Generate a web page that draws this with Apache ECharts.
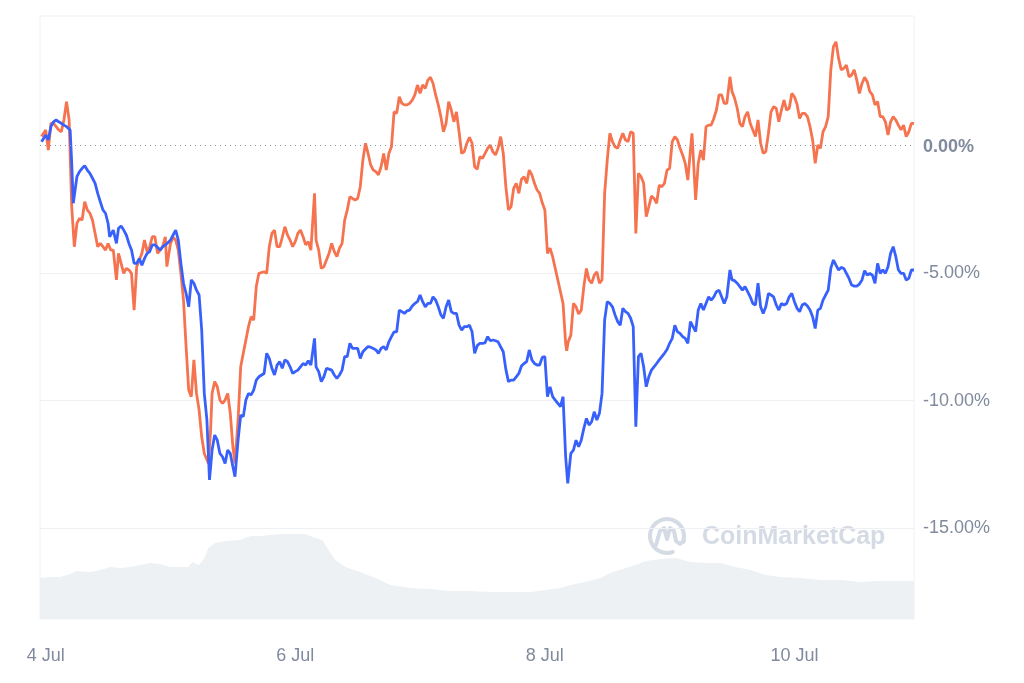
<!DOCTYPE html>
<html>
<head>
<meta charset="utf-8">
<script src="https://cdn.jsdelivr.net/npm/echarts@6/dist/echarts.min.js"></script>
<style>
html,body{margin:0;padding:0;background:#fff;}
#chart{width:1024px;height:683px;}
</style>
</head>
<body>
<div id="chart"></div>
<script>
// hours since 4 Jul 00:00, % change
var coinA = [[-0.8,0.33],[0,0.59],[0.5,-0.2],[1,0.85],[1.5,0.85],[2,0.72],[2.5,0.59],[3,0.52],[3.5,0.98],[4,1.70],[4.5,0.98],[5,-2.41],[5.5,-3.98],[6,-3.07],[6.5,-2.87],[7,-2.94],[7.5,-2.22],[8,-2.54],[8.5,-2.67],[9,-2.94],[9.5,-3.46],[10,-3.98],[10.5,-3.85],[11,-3.98],[11.5,-4.11],[12,-3.85],[12.5,-4.11],[13,-4.11],[13.6,-5.28],[14,-4.24],[14.5,-4.63],[15,-5.02],[15.5,-4.83],[16,-4.89],[16.5,-5.02],[17,-6.46],[17.5,-4.76],[18,-4.50],[18.5,-4.24],[19,-3.72],[19.5,-4.17],[20,-3.98],[20.5,-3.59],[21,-3.59],[21.5,-4.24],[22,-4.11],[22.5,-3.98],[23,-3.59],[23.3,-4.76],[24,-3.85],[24.5,-3.61],[25,-3.72],[25.5,-4.11],[26,-5.02],[26.5,-6.07],[27,-7.89],[27.5,-9.59],[28,-9.85],[28.5,-8.41],[29,-9.72],[29.5,-10.37],[30,-11.42],[30.5,-12.07],[31.3,-12.46],[31.7,-11.2],[32,-9.72],[32.5,-9.26],[33,-9.46],[33.5,-9.98],[34,-10.11],[34.5,-9.98],[35,-9.72],[35.5,-10.5],[36,-11.81],[36.4,-12.46],[37,-10.76],[37.5,-8.68],[38,-8.15],[38.5,-7.63],[39,-7.11],[39.5,-6.72],[40,-6.85],[40.5,-5.54],[41,-5.02],[42,-4.96],[42.5,-5.02],[43,-3.98],[43.5,-3.46],[44,-3.33],[44.5,-3.98],[45,-3.98],[45.5,-3.61],[46,-3.20],[46.5,-3.52],[47,-3.72],[47.5,-3.98],[48,-3.78],[48.5,-3.46],[49,-3.33],[49.5,-3.59],[50,-3.91],[50.5,-3.78],[51,-4.11],[51.7,-1.89],[52,-3.72],[52.5,-4.11],[53,-4.83],[53.5,-4.76],[54,-4.50],[54.5,-4.24],[55,-3.85],[55.5,-4.17],[56,-4.37],[56.5,-4.04],[57,-3.85],[57.5,-2.94],[58,-2.54],[58.5,-2.02],[59,-2.09],[59.5,-2.15],[60,-2.09],[60.5,-1.63],[61,-0.59],[61.5,0.07],[62,-0.33],[62.5,-0.78],[63,-0.98],[63.5,-1.04],[64,-1.17],[64.5,-0.85],[65,-0.33],[65.5,-0.98],[66,-0.33],[66.5,-0.07],[67,1.30],[67.5,1.24],[68,1.89],[68.5,1.63],[69,1.57],[69.5,1.57],[70,1.63],[70.5,1.76],[71,1.96],[71.5,2.35],[72,2.02],[72.5,2.35],[73,2.22],[73.5,2.54],[74,2.65],[74.5,2.41],[75,1.96],[75.5,1.57],[76,1.11],[76.5,0.52],[77,0.85],[77.5,1.70],[78,1.37],[78.5,0.91],[79,1.30],[79.5,0.52],[80,-0.33],[80.5,-0.26],[81,0.07],[81.5,0.30],[82,0.07],[82.5,-0.85],[83,-0.95],[83.5,-0.46],[84,-0.52],[84.5,-0.33],[85,-0.13],[85.5,0],[86,-0.26],[86.5,-0.39],[87,-0.13],[87.5,0.33],[88,-0.33],[88.5,-1.63],[89,-2.54],[89.5,-2.41],[90,-1.70],[90.5,-1.50],[91,-1.89],[91.5,-1.34],[92,-1.24],[92.5,-1.50],[93,-0.98],[93.5,-1.17],[94,-1.50],[94.5,-1.76],[95,-1.89],[95.5,-2.26],[96,-2.54],[96.5,-4.24],[97,-4.04],[97.5,-4.37],[98,-4.83],[98.5,-5.28],[99,-5.74],[99.5,-6.2],[100,-7.76],[100.2,-8.05],[100.5,-7.7],[101,-7.44],[101.5,-6.2],[102,-6.33],[102.5,-6.61],[103,-6.46],[103.5,-5.54],[104,-4.83],[104.5,-5.28],[105,-5.41],[105.5,-5.09],[106,-4.96],[106.5,-5.41],[107,-5.28],[107.5,-1.89],[108,-0.59],[108.5,0.46],[109,0.13],[109.5,-0.07],[110,-0.13],[110.5,0.20],[111,0.46],[111.5,0.20],[112,0.13],[112.5,0.52],[113,0.46],[113.5,-3.46],[114,-1.11],[114.5,-1.24],[115,-1.50],[115.5,-2.80],[116,-2.41],[116.5,-2.0],[117,-2.09],[117.5,-2.28],[118,-1.57],[118.5,-1.63],[119,-1.50],[119.5,-0.98],[120,-0.91],[120.5,0.13],[121,0.33],[121.5,0.2],[122,-0.13],[122.5,-0.39],[123,-0.72],[123.5,-1.37],[124,-0.20],[124.3,0.46],[125,-2.15],[125.5,-0.72],[126,-0.20],[126.5,-0.59],[127,0.72],[127.5,0.78],[128,0.78],[128.5,1.04],[129,1.37],[129.5,1.96],[130,1.96],[130.5,1.63],[131,1.63],[131.6,2.67],[132,2.09],[132.5,1.83],[133,1.44],[133.5,0.85],[134,0.72],[134.5,1.11],[135,1.30],[135.5,0.85],[136,0.59],[136.5,0.33],[137,0.98],[137.5,0.07],[138,-0.33],[138.5,-0.26],[139,0.46],[139.5,1.30],[140,1.50],[140.5,1.44],[141,0.91],[141.5,1.37],[142,1.76],[142.5,1.37],[143,1.44],[143.5,2.02],[144,1.89],[144.5,1.60],[145,1.04],[145.5,1.24],[146,1.24],[146.5,1.11],[147,0.72],[147.5,0.2],[148,-0.72],[148.5,0],[149,-0.13],[149.5,0.52],[150,0.72],[150.5,1.11],[151,2.94],[151.5,3.85],[152,4.04],[152.5,3.39],[153,2.94],[153.5,3.0],[154,3.13],[154.5,2.67],[155,2.74],[155.5,2.94],[156,2.54],[156.5,2.02],[157,2.41],[157.5,2.65],[158,2.48],[158.5,2.09],[159,1.96],[159.5,1.57],[160,1.70],[160.5,1.11],[161,1.11],[161.5,0.91],[162,0.39],[162.5,0.91],[163,1.11],[163.5,0.98],[164,0.78],[164.5,0.59],[165,0.78],[165.5,0.33],[166,0.52],[166.5,0.85],[167,0.85]];

var coinB = [[-0.8,0.13],[0,0.39],[0.5,0.2],[1,0.72],[1.5,0.91],[2,0.98],[2.5,0.91],[3,0.85],[3.5,0.78],[4,0.72],[4.7,0.59],[5,-0.72],[5.3,-2.28],[6,-1.24],[6.5,-1.04],[7,-0.91],[7.5,-0.81],[8,-0.98],[8.5,-1.11],[9,-1.30],[9.5,-1.50],[10,-1.89],[10.5,-2.22],[11,-2.54],[11.5,-2.67],[12,-3.07],[12.3,-3.59],[13,-3.33],[13.6,-3.85],[14,-3.26],[14.5,-3.17],[15,-3.33],[15.5,-3.52],[16,-3.85],[16.5,-4.11],[17,-4.63],[17.5,-4.63],[18,-4.44],[18.5,-4.70],[19,-4.44],[19.5,-4.24],[20,-4.17],[20.5,-3.91],[21,-3.91],[21.5,-4.0],[22,-4.11],[22.5,-3.98],[23,-3.91],[23.5,-3.82],[24,-3.72],[24.5,-3.52],[25,-3.33],[25.5,-3.72],[26,-4.63],[26.5,-5.41],[27,-5.81],[27.5,-6.33],[28,-5.28],[28.5,-5.41],[29,-5.68],[29.5,-5.87],[30,-7.24],[30.5,-9.72],[31,-10.76],[31.5,-13.11],[32,-11.94],[32.5,-11.35],[33,-11.55],[33.5,-12.07],[34,-12.2],[34.5,-12.46],[35,-11.94],[35.5,-12.07],[36,-12.59],[36.4,-12.98],[37,-11.55],[37.5,-10.57],[38,-10.63],[38.5,-9.98],[39,-9.72],[39.5,-9.78],[40,-9.59],[40.5,-9.2],[41,-9.07],[42,-8.94],[42.5,-8.15],[43,-8.35],[43.5,-8.74],[44,-9.0],[44.5,-8.61],[45,-8.48],[45.5,-8.74],[46,-8.41],[46.5,-8.48],[47,-8.68],[47.5,-8.94],[48,-8.87],[48.5,-8.81],[49,-8.68],[49.5,-8.55],[50,-8.61],[50.5,-8.44],[51,-8.61],[51.7,-7.57],[52,-8.68],[52.5,-8.87],[53,-9.26],[53.5,-9.07],[54,-8.74],[54.5,-8.77],[55,-8.81],[55.5,-9.0],[56,-9.13],[56.5,-9.0],[57,-8.81],[57.5,-8.28],[58,-8.28],[58.5,-7.76],[59,-7.96],[59.5,-7.96],[60,-7.96],[60.5,-8.35],[61,-8.09],[61.5,-7.98],[62,-7.89],[62.5,-7.91],[63,-7.96],[63.5,-8.02],[64,-8.15],[64.5,-7.96],[65,-7.89],[65.5,-8.02],[66,-7.70],[66.5,-7.5],[67,-7.31],[67.5,-7.31],[68,-6.46],[68.5,-6.52],[69,-6.59],[69.5,-6.49],[70,-6.46],[70.5,-6.3],[71,-6.20],[71.5,-6.13],[72,-5.87],[72.5,-6.13],[73,-6.33],[73.5,-6.2],[74,-6.20],[74.5,-5.94],[75,-6.07],[75.5,-6.33],[76,-6.65],[76.5,-6.78],[77,-6.33],[77.5,-6.07],[78,-6.52],[78.5,-6.59],[79,-6.59],[79.5,-7.05],[80,-7.24],[80.5,-7.11],[81,-7.11],[81.5,-7.05],[82,-7.31],[82.5,-8.15],[83,-7.85],[83.5,-7.76],[84,-7.76],[84.5,-7.74],[85,-7.50],[85.5,-7.66],[86,-7.63],[86.5,-7.66],[87,-7.70],[88,-8.09],[88.5,-8.78],[89,-9.26],[89.5,-9.2],[90,-9.20],[90.5,-9.07],[91,-8.94],[91.5,-8.65],[92,-8.55],[92.5,-8.48],[93,-8.02],[93.5,-8.41],[94,-8.55],[94.5,-8.61],[95,-8.61],[95.5,-8.31],[96,-8.28],[96.5,-9.85],[97,-9.46],[97.5,-9.85],[98,-9.98],[98.5,-10.11],[99,-10.24],[99.5,-9.85],[100,-12.2],[100.4,-13.24],[101,-12.07],[101.5,-11.94],[102,-11.55],[102.5,-11.81],[103,-11.55],[103.5,-11.09],[104,-10.7],[104.5,-10.96],[105,-10.83],[105.5,-10.44],[106,-10.76],[106.5,-10.5],[107,-9.72],[107.5,-6.85],[108,-6.13],[108.5,-6.2],[109,-6.33],[109.5,-6.65],[110,-6.91],[110.5,-7.05],[111,-6.39],[111.5,-6.52],[112,-6.59],[112.5,-6.78],[113,-7.11],[113.5,-11.02],[114,-8.28],[114.5,-8.15],[115,-8.68],[115.5,-9.46],[116,-9.07],[116.5,-8.81],[117,-8.68],[117.5,-8.55],[118,-8.41],[118.5,-8.28],[119,-8.15],[119.5,-8.0],[120,-7.76],[120.5,-7.57],[121,-7.05],[121.5,-7.31],[122,-7.37],[122.5,-7.5],[123,-7.57],[123.5,-7.76],[124,-6.91],[124.5,-7.11],[125,-7.3],[125.5,-6.46],[126,-6.2],[126.5,-6.46],[127,-6.2],[127.5,-5.94],[128,-6.07],[128.5,-5.94],[129,-5.74],[129.5,-5.68],[130,-5.94],[130.5,-6.2],[131,-5.94],[131.6,-4.89],[132,-5.28],[132.5,-5.31],[133,-5.41],[133.5,-5.54],[134,-5.68],[134.5,-5.54],[135,-5.74],[135.5,-5.94],[136,-6.20],[136.5,-6.26],[137,-5.41],[137.5,-6.33],[138,-6.59],[138.5,-6.33],[139,-5.81],[139.5,-5.87],[140,-5.94],[140.5,-6.26],[141,-6.46],[141.5,-6.2],[142,-6.26],[142.5,-6.2],[143,-5.94],[143.5,-5.81],[144,-6.13],[144.5,-6.39],[145,-6.52],[145.5,-6.26],[146,-6.20],[146.5,-6.3],[147,-6.46],[147.5,-6.72],[148,-7.18],[148.5,-6.46],[149,-6.39],[149.5,-6.07],[150,-5.87],[150.5,-5.68],[151,-4.83],[151.5,-4.5],[152,-4.70],[152.5,-4.89],[153,-4.79],[153.5,-4.83],[154,-5.02],[154.5,-5.22],[155,-5.48],[155.5,-5.52],[156,-5.52],[156.5,-5.44],[157,-5.28],[157.5,-4.92],[158,-5.09],[158.5,-5.02],[159,-5.09],[159.5,-5.41],[160,-4.63],[160.5,-5.02],[161,-4.89],[161.5,-5.02],[162,-4.76],[162.5,-4.24],[163,-3.98],[163.5,-4.37],[164,-4.89],[164.5,-5.02],[165,-5.02],[165.5,-5.28],[166,-5.22],[166.5,-4.89],[167,-4.89]];

// relative volume
var volume = [[-1.1,20.5],[0.9,21],[2.8,21],[4.7,22.5],[5.9,24],[8.6,23.5],[10.5,24.5],[12.4,26],[14.3,25.5],[16.3,26],[18.2,27],[20.1,28],[22.0,27.5],[24.0,26],[25.9,26],[27.4,26],[28.2,28.5],[29.4,27],[30.3,29.5],[31.3,35.5],[32.6,38],[34.6,39],[37.4,39.5],[39.4,41.5],[41.3,41.5],[43.2,42],[45.1,42.5],[48.0,42.5],[49.9,42.5],[51.9,40.5],[53.2,39.5],[54.4,34.5],[55.7,29.5],[57.6,26],[60.5,23.5],[63.4,20.5],[66.3,17],[70.2,15.5],[74.0,15],[77.9,14],[81.7,14],[85.6,13.5],[88.4,13.5],[93.2,13.5],[96.1,14.5],[99.0,15.5],[100.9,17],[103.8,18.5],[106.7,20.5],[108.6,23],[111.5,25.5],[113.5,27],[115.4,29],[118.3,30],[121.2,30.5],[124.0,28.5],[126.9,28],[129.8,28],[132.7,26],[135.6,24.5],[138.5,22],[141.4,21],[145.2,20.5],[149.1,19.5],[152.9,19.5],[156.8,18.5],[159.6,19],[162.5,19],[167,19]];

var xTickValues = [0, 48, 96, 144];
var xTickLabels = ['4 Jul', '6 Jul', '8 Jul', '10 Jul'];
var yTickValues = [-15, -10, -5, 0];
var yGridValues = [-15, -10, -5];
var zeroLine = 0;

var FONT = '"Liberation Sans", Arial, sans-serif';
var chart = echarts.init(document.getElementById('chart'));
chart.setOption({
  animation: false,
  backgroundColor: '#ffffff',
  grid: {left: 40, right: 110, top: 16, bottom: 64, show: true, borderColor: '#eef0f3', borderWidth: 1},
  xAxis: {
    type: 'value', min: -1.1, max: 167,
    axisLine: {show: false}, splitLine: {show: false},
    axisTick: {show: false, customValues: xTickValues},
    axisLabel: {
      customValues: xTickValues, margin: 28, color: '#808A9D', fontSize: 18, fontFamily: FONT,
      formatter: function (v) { var i = xTickValues.indexOf(v); return i >= 0 ? xTickLabels[i] : ''; }
    }
  },
  yAxis: [{
    type: 'value', position: 'right', min: -18.55, max: 5.05,
    axisLine: {show: false},
    axisTick: {show: false, customValues: yGridValues},
    splitLine: {show: true, lineStyle: {color: '#eef0f3', width: 1}},
    axisLabel: {
      customValues: yTickValues, margin: 9, fontSize: 18, fontFamily: FONT, color: '#808A9D',
      formatter: function (v) { var s = v.toFixed(2) + '%'; return v === 0 ? '{b|' + s + '}' : s; },
      rich: {b: {fontWeight: 'bold', fontSize: 18, fontFamily: FONT, color: '#808A9D', padding: [3, 0, 0, 0]}}
    }
  }, {
    type: 'value', min: 0, max: 301.5, show: false
  }],
  graphic: [
    {type: 'arc', z: 0, shape: {cx: 667, cy: 536, r: 17, startAngle: 1.22, endAngle: 6.63},
     style: {stroke: '#d5dbe4', lineWidth: 4, fill: null, lineCap: 'round'}},
    {type: 'polyline', z: 0, shape: {points: [[656,545],[660,531],[664,528],[667,539],[670,528],[674,531],[676,541],[680,544],[684,541]]},
     style: {stroke: '#d5dbe4', lineWidth: 4, fill: null, lineJoin: 'round', lineCap: 'round'}},
    {type: 'text', z: 0, x: 702, y: 537,
     style: {text: 'CoinMarketCap', font: 'bold 25px ' + FONT, fill: '#d5dbe4', verticalAlign: 'middle'}}
  ],
  series: [{
    type: 'line', yAxisIndex: 1, data: volume, showSymbol: false, silent: true, z: 1,
    lineStyle: {width: 0}, areaStyle: {color: '#eef1f4', opacity: 1}
  }, {
    type: 'line', data: coinA, showSymbol: false, z: 3,
    lineStyle: {color: '#F5734F', width: 2.8}, itemStyle: {color: '#F5734F'},
    markLine: {silent: true, symbol: 'none', label: {show: false},
      lineStyle: {color: '#8a8f9c', type: [1, 4], width: 1.2}, data: [{yAxis: zeroLine}]}
  }, {
    type: 'line', data: coinB, showSymbol: false, z: 4,
    lineStyle: {color: '#3861FB', width: 2.8}, itemStyle: {color: '#3861FB'}
  }]
});
</script>
</body>
</html>
